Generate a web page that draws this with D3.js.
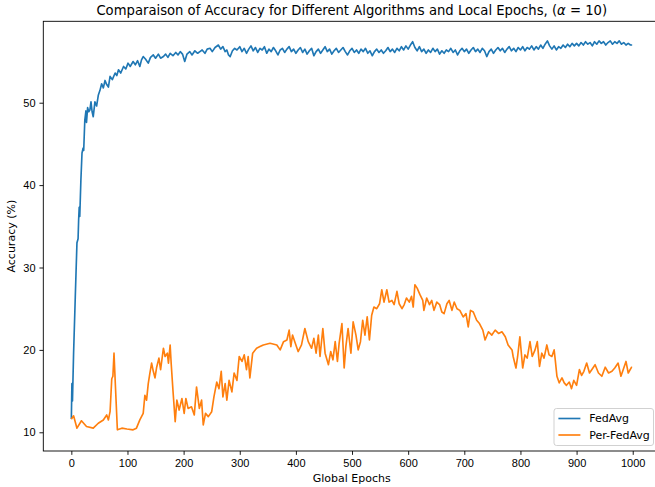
<!DOCTYPE html>
<html>
<head>
<meta charset="utf-8">
<script src="https://cdn.jsdelivr.net/npm/d3@7"></script>
<style>
  body { margin: 0; background: #fff; }
  svg { display: block; font-family: "DejaVu Sans", sans-serif; }
  .axis path, .axis line { stroke: #000; stroke-width: 0.9px; }
  .axis text { font-size: 11px; fill: #000; }
  .line { fill: none; stroke-width: 1.65px; stroke-linejoin: round; }
</style>
</head>
<body>
<div id="chart"></div>
<script>
// Accuracy per global epoch
var titleText = "Comparaison of Accuracy for Different Algorithms and Local Epochs, (";
var seriesNames = ["FedAvg", "Per-FedAvg"];
var xTicks = [0, 100, 200, 300, 400, 500, 600, 700, 800, 900, 1000];
var yTicks = [10, 20, 30, 40, 50];

var fedAvg = [
  [0,11.6],[1,15.9],[2,13.8],[4,19.6],[7,26.4],[10,33.0],[12,33.5],[13,35.8],[14,37.3],[15,36.2],
  [17,40.6],[19,43.9],[21,44.5],[22,44.2],[24,47.9],[26,49.0],[27,47.6],[29,49.4],[31,48.9],[33,49.1],
  [35,50.1],[37,48.9],[39,48.3],[42,50.1],[45,49.6],[48,50.9],[51,51.5],[54,52.3],[57,51.8],[60,52.7],
  [63,52.2],[66,51.9],[69,53.2],[73,52.8],[78,53.6],[81,53.3],[84,54.0],[88,53.6],[93,54.4],[97,54.1],
  [101,54.8],[105,54.4],[110,55.0],[114,54.6],[118,55.1],[122,54.4],[125,55.2],[128,55.6],[132,55.3],[137,54.8],
  [141,55.5],[146,55.8],[150,55.4],[155,55.9],[159,55.4],[164,55.6],[168,55.9],[172,55.5],[176,56.0],[181,55.7],
  [186,56.1],[190,55.8],[194,56.2],[198,55.9],[202,55.0],[206,55.9],[211,56.2],[215,55.8],[220,56.3],[225,56.0],
  [229,56.2],[233,56.4],[238,56.0],[242,56.5],[247,56.6],[251,56.2],[256,56.7],[262,57.0],[266,56.5],[270,56.8],
  [274,56.2],[277,56.4],[280,55.8],[283,55.6],[287,56.3],[291,56.6],[295,56.4],[300,56.8],[304,56.2],[308,56.6],
  [312,56.0],[316,56.5],[320,56.9],[324,56.3],[328,56.7],[332,56.1],[336,56.6],[340,56.4],[344,56.8],[348,56.0],
  [352,56.5],[356,56.2],[360,56.7],[364,56.3],[368,55.8],[372,56.4],[376,56.6],[380,56.1],[384,56.5],[388,56.8],
  [392,56.2],[396,56.5],[400,56.0],[404,56.4],[408,56.7],[412,56.1],[416,56.5],[420,55.9],[424,56.3],[428,56.6],
  [432,55.7],[436,56.2],[440,56.5],[444,56.0],[448,56.4],[452,56.8],[456,56.2],[460,56.5],[464,55.9],[468,56.3],
  [472,56.6],[476,56.1],[480,56.4],[484,56.7],[488,56.2],[492,55.8],[496,56.3],[500,56.6],[504,56.1],[508,56.4],
  [512,56.0],[516,56.5],[520,56.2],[524,56.6],[528,56.0],[532,56.3],[536,55.7],[540,56.2],[544,56.5],[548,56.1],
  [552,56.4],[556,56.0],[560,56.3],[564,56.7],[568,56.2],[572,56.5],[576,56.1],[580,56.6],[584,56.3],[588,56.8],
  [592,56.4],[596,56.9],[600,56.5],[604,57.0],[608,57.4],[612,56.7],[616,56.3],[620,56.8],[624,56.2],[628,56.5],
  [632,56.0],[636,56.4],[640,56.1],[644,56.6],[648,56.2],[652,56.5],[656,55.9],[660,56.3],[664,56.0],[668,56.4],
  [672,56.2],[676,56.6],[680,56.1],[684,56.4],[688,55.8],[692,56.3],[696,56.6],[700,56.2],[704,56.5],[708,56.0],
  [712,56.4],[716,56.7],[720,56.2],[724,56.5],[728,56.1],[732,56.6],[736,56.3],[740,55.6],[744,56.2],[748,56.5],
  [752,56.0],[756,56.4],[760,56.7],[764,56.3],[768,56.6],[772,56.1],[776,56.5],[780,56.8],[784,56.3],[788,56.6],
  [792,56.2],[796,56.7],[800,56.4],[804,56.8],[808,56.3],[812,56.7],[816,56.5],[820,56.9],[824,56.4],[828,56.8],
  [832,56.5],[836,57.0],[840,56.6],[844,57.1],[848,57.5],[852,56.9],[856,56.5],[860,56.9],[864,56.4],[868,56.8],
  [872,56.6],[876,57.0],[880,56.7],[884,57.1],[888,56.8],[892,57.2],[896,56.9],[900,57.2],[904,56.9],[908,57.3],
  [912,57.0],[916,57.4],[920,57.1],[924,57.3],[928,56.9],[932,57.4],[936,57.1],[940,57.5],[944,57.2],[948,57.4],
  [952,57.0],[956,57.3],[960,57.5],[964,57.1],[968,57.4],[972,57.2],[976,57.5],[980,57.1],[984,57.3],[988,57.0],
  [992,57.2],[996,57.0],[999,57.0]
];

var perFedAvg = [
  [0,11.6],[4,12.0],[10,10.5],[18,11.4],[27,10.7],[39,10.5],[48,11.1],[57,11.5],[63,12.1],[66,11.5],
  [69,12.5],[72,16.5],[74,16.8],[76,19.6],[78,16.4],[82,10.3],[90,10.5],[99,10.4],[110,10.3],[116,10.5],
  [122,11.5],[128,12.3],[131,14.5],[134,13.9],[137,15.9],[140,17.2],[143,18.4],[146,17.4],[149,16.6],[152,17.9],
  [156,19.0],[159,17.6],[164,20.2],[167,19.2],[171,19.6],[173,18.4],[176,20.6],[178,18.2],[181,15.1],[185,11.3],
  [188,13.9],[192,12.7],[197,14.1],[201,12.3],[204,14.1],[208,12.9],[214,13.1],[219,12.1],[223,15.5],[228,12.9],
  [232,13.9],[235,10.9],[239,12.3],[244,11.9],[250,12.5],[254,14.3],[259,16.1],[263,15.3],[267,17.4],[270,14.3],
  [274,15.9],[277,13.9],[281,16.3],[286,14.9],[290,17.2],[295,16.3],[299,19.2],[304,18.6],[308,19.4],[312,17.6],
  [315,19.2],[318,16.6],[323,19.6],[330,20.2],[336,20.4],[342,20.6],[354,20.8],[366,20.6],[372,20.0],[378,21.0],
  [384,21.2],[388,22.4],[391,20.4],[394,21.8],[398,21.0],[404,19.8],[410,20.6],[416,22.6],[422,21.0],[428,20.2],
  [432,21.4],[436,19.6],[440,21.8],[443,19.2],[448,22.6],[452,19.6],[458,18.2],[462,19.8],[466,18.8],[470,21.0],
  [474,18.6],[477,20.8],[482,23.2],[486,17.8],[489,20.4],[493,22.6],[498,19.6],[502,23.4],[507,21.8],[511,20.0],
  [515,21.0],[519,23.6],[523,21.8],[527,24.0],[531,21.2],[535,24.2],[539,25.2],[544,25.0],[549,25.6],[553,27.3],
  [557,25.8],[562,27.3],[566,25.8],[571,26.0],[575,25.5],[580,27.1],[584,25.6],[589,25.0],[593,25.5],[597,26.3],
  [602,25.8],[606,26.5],[609,25.2],[612,27.9],[616,27.5],[621,26.7],[626,26.0],[628,24.8],[633,26.3],[638,25.5],
  [642,26.0],[646,24.8],[651,25.8],[656,25.5],[660,24.6],[664,24.4],[669,25.6],[673,26.0],[678,24.8],[682,25.8],
  [687,25.0],[692,24.8],[698,24.0],[703,24.4],[707,22.8],[711,24.8],[716,24.6],[722,23.6],[727,23.2],[733,22.4],
  [737,21.2],[743,22.2],[749,21.8],[755,22.4],[761,22.0],[767,22.2],[773,21.6],[778,20.6],[785,20.0],[787,19.2],
  [792,17.8],[795,19.2],[799,21.6],[804,17.8],[808,19.4],[812,19.0],[817,21.0],[821,19.2],[826,20.0],[830,21.0],
  [834,18.0],[838,19.6],[842,19.0],[847,20.6],[851,19.4],[856,19.2],[860,20.0],[862,18.8],[865,16.8],[869,16.0],
  [874,16.6],[878,16.0],[882,15.7],[887,16.1],[891,15.3],[895,16.3],[900,15.7],[905,17.6],[909,16.9],[913,17.4],
  [918,18.4],[923,17.2],[927,17.6],[933,18.2],[939,17.2],[945,16.8],[951,17.9],[957,17.2],[963,17.4],[968,17.8],
  [974,18.4],[979,16.8],[983,17.6],[988,18.6],[992,17.2],[998,17.9],[999,17.9]
];

var colors = ["#1f77b4", "#ff7f0e"];

(function () {
var W = 655, H = 487;
var margin = {left: 43.3, right: 660.2, top: 21.3, bottom: 451};

var x = d3.scaleLinear().domain([-49.95, 1048.95]).range([margin.left, margin.right]);
var y = d3.scaleLinear().domain([7.73, 59.88]).range([margin.bottom, margin.top]);

var svg = d3.select("#chart").append("svg")
    .attr("width", W)
    .attr("height", H);

var line = d3.line()
    .x(function(d) { return x(d[0]); })
    .y(function(d) { return y(d[1]); });

svg.append("defs").append("clipPath").attr("id", "clip")
  .append("rect")
    .attr("x", margin.left).attr("y", margin.top)
    .attr("width", margin.right - margin.left).attr("height", margin.bottom - margin.top);

var plot = svg.append("g").attr("clip-path", "url(#clip)");

[fedAvg, perFedAvg].forEach(function(data, i) {
  plot.append("path")
      .datum(data)
      .attr("class", "line")
      .attr("stroke", colors[i])
      .attr("d", line);
});

svg.append("g")
    .attr("class", "x axis")
    .attr("transform", "translate(0," + margin.bottom + ")")
    .call(d3.axisBottom(x).tickValues(xTicks).tickFormat(d3.format("d"))
      .tickSize(3.85).tickPadding(3.85).tickSizeOuter(0));

svg.append("g")
    .attr("class", "y axis")
    .attr("transform", "translate(" + margin.left + ",0)")
    .call(d3.axisLeft(y).tickValues(yTicks).tickFormat(d3.format("d"))
      .tickSize(3.85).tickPadding(3.85).tickSizeOuter(0));

svg.selectAll(".axis .domain").remove();

// spines
svg.append("rect")
    .attr("x", margin.left).attr("y", margin.top)
    .attr("width", margin.right - margin.left).attr("height", margin.bottom - margin.top)
    .attr("fill", "none")
    .attr("stroke", "#000")
    .attr("stroke-width", 0.9);

var title = svg.append("text")
    .attr("x", (margin.left + margin.right) / 2)
    .attr("y", 15)
    .attr("text-anchor", "middle")
    .style("font-size", "13.2px");
title.append("tspan").text(titleText);
title.append("tspan").style("font-style", "italic").text("\u03b1");
title.append("tspan").text(" = 10)");

svg.append("text")
    .attr("x", (margin.left + margin.right) / 2)
    .attr("y", 482)
    .attr("text-anchor", "middle")
    .style("font-size", "11px")
    .text("Global Epochs");

svg.append("text")
    .attr("transform", "translate(15," + ((margin.top + margin.bottom) / 2) + ") rotate(-90)")
    .attr("text-anchor", "middle")
    .style("font-size", "11px")
    .text("Accuracy (%)");

// legend, lower right
var legend = svg.append("g").attr("transform", "translate(554,408.5)");

legend.append("rect")
    .attr("width", 99.5)
    .attr("height", 37)
    .attr("rx", 2.5)
    .attr("fill", "#fff")
    .attr("fill-opacity", 0.8)
    .attr("stroke", "#cccccc")
    .attr("stroke-width", 0.9);

seriesNames.forEach(function(name, i) {
  var row = legend.append("g").attr("transform", "translate(0," + (10 + i * 16.5) + ")");
  row.append("line")
      .attr("x1", 4.4).attr("x2", 26.4)
      .attr("stroke", colors[i])
      .attr("stroke-width", 1.65);
  row.append("text")
      .attr("x", 35.2)
      .attr("dy", "0.35em")
      .style("font-size", "11px")
      .text(name);
});
})();
</script>
</body>
</html>
